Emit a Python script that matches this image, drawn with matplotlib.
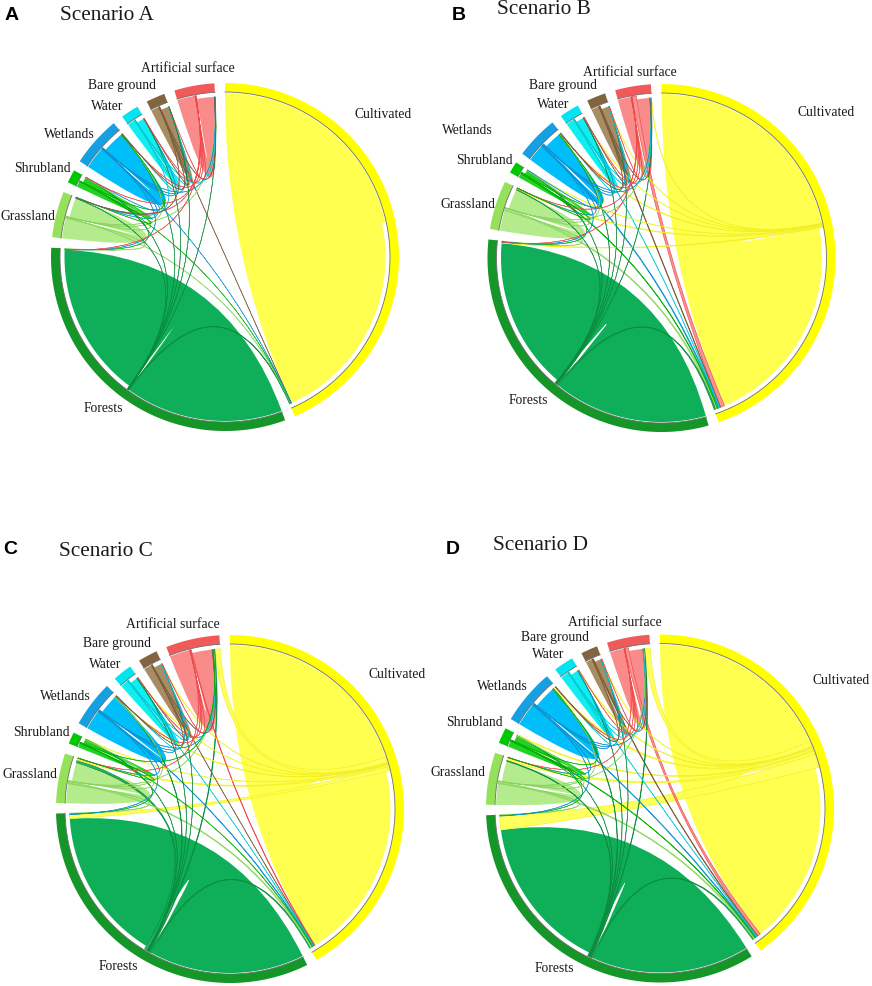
import numpy as np
import matplotlib
matplotlib.use("Agg")
import matplotlib.pyplot as plt
from matplotlib.path import Path
from matplotlib.patches import PathPatch, Polygon

# ---------------- data ----------------
classes = ["Cultivated", "Forests", "Grassland", "Shrubland",
           "Wetlands", "Water", "Bare ground", "Artificial surface"]

bar_colors = ["#FFFF00", "#149628", "#96E15A", "#00C800",
              "#14A0E1", "#00E5F0", "#826440", "#F05A5A"]
chord_colors = ["#FFFF50", "#0FAF5A", "#B4EB8C", "#22D222",
                "#00BEFA", "#10EEF0", "#A88C64", "#F98B8B"]
line_colors = ["#F2F020", "#0A8A3A", "#86D45C", "#00B000",
               "#1090D0", "#00C8D8", "#7A5A38", "#F04848"]

# persistence (diagonal) per class, scenario A-D
self_A = [77.6, 55.95, 7.1, 2.0, 7.85, 2.7, 2.9, 6.3]
self_B = [77.75, 54.9, 7.2, 1.5, 6.2, 2.8, 2.8, 4.7]
self_C = [72.85, 56.15, 6.95, 1.55, 6.95, 2.8, 2.9, 7.35]
self_D = [66.2, 56.45, 7.45, 2.1, 8.1, 2.8, 2.35, 5.05]

# conversions (from, to, amount)
flows_A = [
    ("Forests", "Cultivated", 0.30), ("Forests", "Grassland", 0.08),
    ("Forests", "Shrubland", 0.05), ("Forests", "Wetlands", 0.10),
    ("Forests", "Water", 0.05), ("Forests", "Bare ground", 0.04),
    ("Forests", "Artificial surface", 0.08),
    ("Grassland", "Cultivated", 0.25), ("Grassland", "Forests", 0.20),
    ("Grassland", "Shrubland", 0.05), ("Grassland", "Wetlands", 0.10),
    ("Grassland", "Artificial surface", 0.10),
    ("Shrubland", "Forests", 0.10), ("Shrubland", "Grassland", 0.05),
    ("Shrubland", "Wetlands", 0.05), ("Shrubland", "Cultivated", 0.05),
    ("Wetlands", "Cultivated", 0.05), ("Wetlands", "Grassland", 0.10),
    ("Wetlands", "Shrubland", 0.05), ("Wetlands", "Water", 0.15),
    ("Wetlands", "Bare ground", 0.05), ("Wetlands", "Artificial surface", 0.10),
    ("Wetlands", "Forests", 0.10),
    ("Water", "Wetlands", 0.15), ("Water", "Artificial surface", 0.05),
    ("Water", "Bare ground", 0.05), ("Water", "Grassland", 0.05),
    ("Bare ground", "Cultivated", 0.12), ("Bare ground", "Wetlands", 0.05),
    ("Bare ground", "Water", 0.05), ("Bare ground", "Artificial surface", 0.05),
    ("Bare ground", "Grassland", 0.05),
    ("Artificial surface", "Wetlands", 0.10), ("Artificial surface", "Water", 0.05),
    ("Artificial surface", "Bare ground", 0.05), ("Artificial surface", "Grassland", 0.10),
    ("Artificial surface", "Shrubland", 0.05), ("Artificial surface", "Forests", 0.05),
]

flows_B = [
    ("Cultivated", "Forests", 0.30), ("Cultivated", "Grassland", 0.40),
    ("Cultivated", "Shrubland", 0.15), ("Cultivated", "Wetlands", 0.30),
    ("Cultivated", "Water", 0.15), ("Cultivated", "Bare ground", 0.10),
    ("Cultivated", "Artificial surface", 0.20),
    ("Forests", "Cultivated", 0.50), ("Forests", "Grassland", 0.20),
    ("Forests", "Shrubland", 0.10), ("Forests", "Wetlands", 0.20),
    ("Forests", "Water", 0.10), ("Forests", "Bare ground", 0.05),
    ("Forests", "Artificial surface", 0.20),
    ("Grassland", "Cultivated", 0.60), ("Grassland", "Forests", 0.25),
    ("Grassland", "Wetlands", 0.10), ("Grassland", "Artificial surface", 0.10),
    ("Grassland", "Shrubland", 0.05),
    ("Shrubland", "Cultivated", 0.35), ("Shrubland", "Forests", 0.10),
    ("Shrubland", "Grassland", 0.05), ("Shrubland", "Wetlands", 0.05),
    ("Wetlands", "Cultivated", 0.45), ("Wetlands", "Forests", 0.10),
    ("Wetlands", "Grassland", 0.10), ("Wetlands", "Water", 0.15),
    ("Wetlands", "Artificial surface", 0.10), ("Wetlands", "Bare ground", 0.05),
    ("Wetlands", "Shrubland", 0.05),
    ("Water", "Cultivated", 0.20), ("Water", "Wetlands", 0.15),
    ("Water", "Artificial surface", 0.05), ("Water", "Bare ground", 0.05),
    ("Bare ground", "Cultivated", 0.30), ("Bare ground", "Wetlands", 0.05),
    ("Bare ground", "Water", 0.05), ("Bare ground", "Artificial surface", 0.05),
    ("Artificial surface", "Cultivated", 1.50), ("Artificial surface", "Wetlands", 0.10),
    ("Artificial surface", "Water", 0.05), ("Artificial surface", "Bare ground", 0.05),
    ("Artificial surface", "Grassland", 0.10), ("Artificial surface", "Forests", 0.05),
]

flows_C = [
    ("Cultivated", "Artificial surface", 2.00), ("Cultivated", "Forests", 1.50),
    ("Cultivated", "Grassland", 0.60), ("Cultivated", "Wetlands", 0.30),
    ("Cultivated", "Water", 0.20), ("Cultivated", "Bare ground", 0.20),
    ("Cultivated", "Shrubland", 0.20),
    ("Forests", "Cultivated", 0.50), ("Forests", "Grassland", 1.00),
    ("Forests", "Artificial surface", 0.40), ("Forests", "Wetlands", 0.30),
    ("Forests", "Shrubland", 0.20), ("Forests", "Water", 0.10),
    ("Forests", "Bare ground", 0.10),
    ("Grassland", "Cultivated", 0.50), ("Grassland", "Forests", 0.30),
    ("Grassland", "Artificial surface", 0.20), ("Grassland", "Wetlands", 0.10),
    ("Grassland", "Shrubland", 0.05),
    ("Shrubland", "Cultivated", 0.25), ("Shrubland", "Forests", 0.10),
    ("Shrubland", "Artificial surface", 0.05), ("Shrubland", "Grassland", 0.05),
    ("Wetlands", "Cultivated", 0.30), ("Wetlands", "Forests", 0.10),
    ("Wetlands", "Artificial surface", 0.15), ("Wetlands", "Water", 0.15),
    ("Wetlands", "Grassland", 0.10), ("Wetlands", "Bare ground", 0.05),
    ("Water", "Cultivated", 0.15), ("Water", "Wetlands", 0.15),
    ("Water", "Artificial surface", 0.10), ("Water", "Bare ground", 0.05),
    ("Bare ground", "Cultivated", 0.20), ("Bare ground", "Artificial surface", 0.10),
    ("Bare ground", "Wetlands", 0.05), ("Bare ground", "Water", 0.05),
    ("Artificial surface", "Cultivated", 0.30), ("Artificial surface", "Wetlands", 0.10),
    ("Artificial surface", "Water", 0.05), ("Artificial surface", "Bare ground", 0.05),
    ("Artificial surface", "Grassland", 0.10),
]

flows_D = [
    ("Cultivated", "Forests", 5.00), ("Cultivated", "Artificial surface", 2.00),
    ("Cultivated", "Grassland", 1.00), ("Cultivated", "Wetlands", 0.80),
    ("Cultivated", "Shrubland", 0.40), ("Cultivated", "Water", 0.30),
    ("Cultivated", "Bare ground", 0.20),
    ("Forests", "Cultivated", 0.50), ("Forests", "Grassland", 0.30),
    ("Forests", "Wetlands", 0.30), ("Forests", "Artificial surface", 0.30),
    ("Forests", "Shrubland", 0.15), ("Forests", "Water", 0.15),
    ("Forests", "Bare ground", 0.10),
    ("Grassland", "Cultivated", 0.50), ("Grassland", "Forests", 0.30),
    ("Grassland", "Artificial surface", 0.10), ("Grassland", "Wetlands", 0.10),
    ("Grassland", "Shrubland", 0.05),
    ("Shrubland", "Cultivated", 0.30), ("Shrubland", "Forests", 0.10),
    ("Shrubland", "Grassland", 0.05), ("Shrubland", "Wetlands", 0.05),
    ("Wetlands", "Cultivated", 0.35), ("Wetlands", "Forests", 0.10),
    ("Wetlands", "Water", 0.15), ("Wetlands", "Artificial surface", 0.15),
    ("Wetlands", "Grassland", 0.10), ("Wetlands", "Bare ground", 0.05),
    ("Water", "Cultivated", 0.20), ("Water", "Wetlands", 0.15),
    ("Water", "Artificial surface", 0.05), ("Water", "Bare ground", 0.05),
    ("Bare ground", "Cultivated", 0.35), ("Bare ground", "Artificial surface", 0.10),
    ("Bare ground", "Wetlands", 0.05),
    ("Artificial surface", "Cultivated", 1.20), ("Artificial surface", "Wetlands", 0.10),
    ("Artificial surface", "Water", 0.05), ("Artificial surface", "Bare ground", 0.05),
    ("Artificial surface", "Grassland", 0.10),
]

# ---------------- layout (pixels) ----------------
W, H = 872, 987
R_OUT, R_BAR_IN, R_SRC, R_DST = 174.0, 165.0, 164.0, 160.5
GAP = 3.5

panels = [
    dict(letter="A", title="Scenario A", selfv=self_A, flows=flows_A,
         center=(225, 258), letter_xy=(5, 15), title_xy=(60, 15),
         labels={"Artificial surface": (188, 68), "Bare ground": (122, 85),
                 "Water": (107, 106), "Wetlands": (69, 135),
                 "Shrubland": (42, 169), "Grassland": (28, 216),
                 "Forests": (103, 408), "Cultivated": (383, 115)}),
    dict(letter="B", title="Scenario B", selfv=self_B, flows=flows_B,
         center=(661.5, 259), letter_xy=(452, 15), title_xy=(497, 10),
         labels={"Artificial surface": (630, 72), "Bare ground": (563, 85),
                 "Water": (553, 104), "Wetlands": (467, 130),
                 "Shrubland": (484, 160), "Grassland": (468, 204),
                 "Forests": (528, 400), "Cultivated": (826, 112)}),
    dict(letter="C", title="Scenario C", selfv=self_C, flows=flows_C,
         center=(230, 810), letter_xy=(3, 550), title_xy=(59, 551),
         labels={"Artificial surface": (173, 624), "Bare ground": (117, 643),
                 "Water": (105, 665), "Wetlands": (65, 697),
                 "Shrubland": (41, 733), "Grassland": (30, 774),
                 "Forests": (118, 967), "Cultivated": (397, 674)}),
    dict(letter="D", title="Scenario D", selfv=self_D, flows=flows_D,
         center=(660, 809.5), letter_xy=(446, 549), title_xy=(493, 546),
         labels={"Artificial surface": (615, 622), "Bare ground": (555, 638),
                 "Water": (548, 655), "Wetlands": (502, 687),
                 "Shrubland": (474, 723), "Grassland": (458, 772),
                 "Forests": (554, 969), "Cultivated": (841, 680)}),
]

idx = {c: i for i, c in enumerate(classes)}


def build_matrix(selfv, flows):
    n = len(classes)
    M = np.zeros((n, n))
    for i, v in enumerate(selfv):
        M[i, i] = v
    for s, t, v in flows:
        M[idx[s], idx[t]] += v
    return M


def pt(cx, cy, r, ang):
    t = np.deg2rad(ang)
    return (cx + r * np.cos(t), cy - r * np.sin(t))


def arc_pts(cx, cy, r, a1, a2):
    n = max(2, int(abs(a2 - a1) * 3) + 2)
    t = np.deg2rad(np.linspace(a1, a2, n))
    return np.column_stack([cx + r * np.cos(t), cy - r * np.sin(t)])


def link_path(cx, cy, r1, a1, a2, r2, b1, b2):
    verts, codes = [], []
    A = arc_pts(cx, cy, r1, a1, a2)
    verts += [tuple(p) for p in A]
    codes += [Path.MOVETO] + [Path.LINETO] * (len(A) - 1)
    verts += [(cx, cy), pt(cx, cy, r2, b1)]
    codes += [Path.CURVE3, Path.CURVE3]
    B = arc_pts(cx, cy, r2, b1, b2)
    verts += [tuple(p) for p in B[1:]]
    codes += [Path.LINETO] * (len(B) - 1)
    verts += [(cx, cy), pt(cx, cy, r1, a1)]
    codes += [Path.CURVE3, Path.CURVE3]
    verts.append(pt(cx, cy, r1, a1))
    codes.append(Path.CLOSEPOLY)
    return Path(verts, codes)


def draw_chord(ax, cx, cy, M):
    n = M.shape[0]
    widths = M.sum(axis=1) + M.sum(axis=0)
    k = (360.0 - n * GAP) / widths.sum()
    starts, a = [], 90.0
    for i in range(n):
        starts.append(a)
        a -= widths[i] * k + GAP
    out_seg, in_seg = {}, {}
    for i in range(n):
        pos = starts[i]
        order = [i] + [(i - m) % n for m in range(1, n)]
        for j in order:
            w = M[i, j] * k
            out_seg[(i, j)] = (pos, pos - w)
            pos -= w
        for j in order:
            w = M[j, i] * k
            in_seg[(j, i)] = (pos, pos - w)
            pos -= w

    # outer bars
    for i in range(n):
        a1, a2 = starts[i], starts[i] - widths[i] * k
        outer = arc_pts(cx, cy, R_OUT, a1, a2)
        inner = arc_pts(cx, cy, R_BAR_IN, a2, a1)
        ax.add_patch(Polygon(np.vstack([outer, inner]), closed=True,
                             facecolor=bar_colors[i], edgecolor="none", zorder=3))
        ln = arc_pts(cx, cy, R_BAR_IN, a1, a2)
        ax.plot(ln[:, 0], ln[:, 1], color="#6E6E6E", lw=0.6, zorder=4)

    # self links (persistence)
    for i in range(n):
        if M[i, i] <= 0:
            continue
        a1, a2 = out_seg[(i, i)]
        b1, b2 = in_seg[(i, i)]
        p = link_path(cx, cy, R_SRC, a1, a2, R_DST, b1, b2)
        ax.add_patch(PathPatch(p, facecolor=chord_colors[i], edgecolor="none",
                               lw=0, zorder=1))

    # conversions
    links = [(M[i, j], i, j) for i in range(n) for j in range(n)
             if i != j and M[i, j] > 0]
    links.sort(key=lambda x: -x[0])
    for v, i, j in links:
        a1, a2 = out_seg[(i, j)]
        b1, b2 = in_seg[(i, j)]
        p = link_path(cx, cy, R_SRC, a1, a2, R_DST, b1, b2)
        thin = v < 0.3
        ax.add_patch(PathPatch(p, facecolor=chord_colors[i],
                               edgecolor=line_colors[i],
                               lw=0.45 if thin else 0.5,
                               alpha=0.8 if thin else 0.92, zorder=2))


fig = plt.figure(figsize=(W / 100, H / 100), dpi=100)
ax = fig.add_axes([0, 0, 1, 1])
ax.set_xlim(0, W)
ax.set_ylim(H, 0)
ax.axis("off")

serif = ["Liberation Serif", "DejaVu Serif"]
sans = ["Liberation Sans", "DejaVu Sans"]

for pnl in panels:
    M = build_matrix(pnl["selfv"], pnl["flows"])
    cx, cy = pnl["center"]
    draw_chord(ax, cx, cy, M)
    for name, (x, y) in pnl["labels"].items():
        ax.text(x, y, name, ha="center", va="center", fontsize=9.8,
                family=serif, color="#1a1a1a", zorder=5)
    lx, ly = pnl["letter_xy"]
    ax.text(lx, ly, pnl["letter"], ha="left", va="center", fontsize=14,
            fontweight="bold", family=sans, color="black")
    tx, ty = pnl["title_xy"]
    ax.text(tx, ty, pnl["title"], ha="left", va="center", fontsize=15.3,
            family=serif, color="#1a1a1a")

fig.savefig("out.png", dpi=100)
